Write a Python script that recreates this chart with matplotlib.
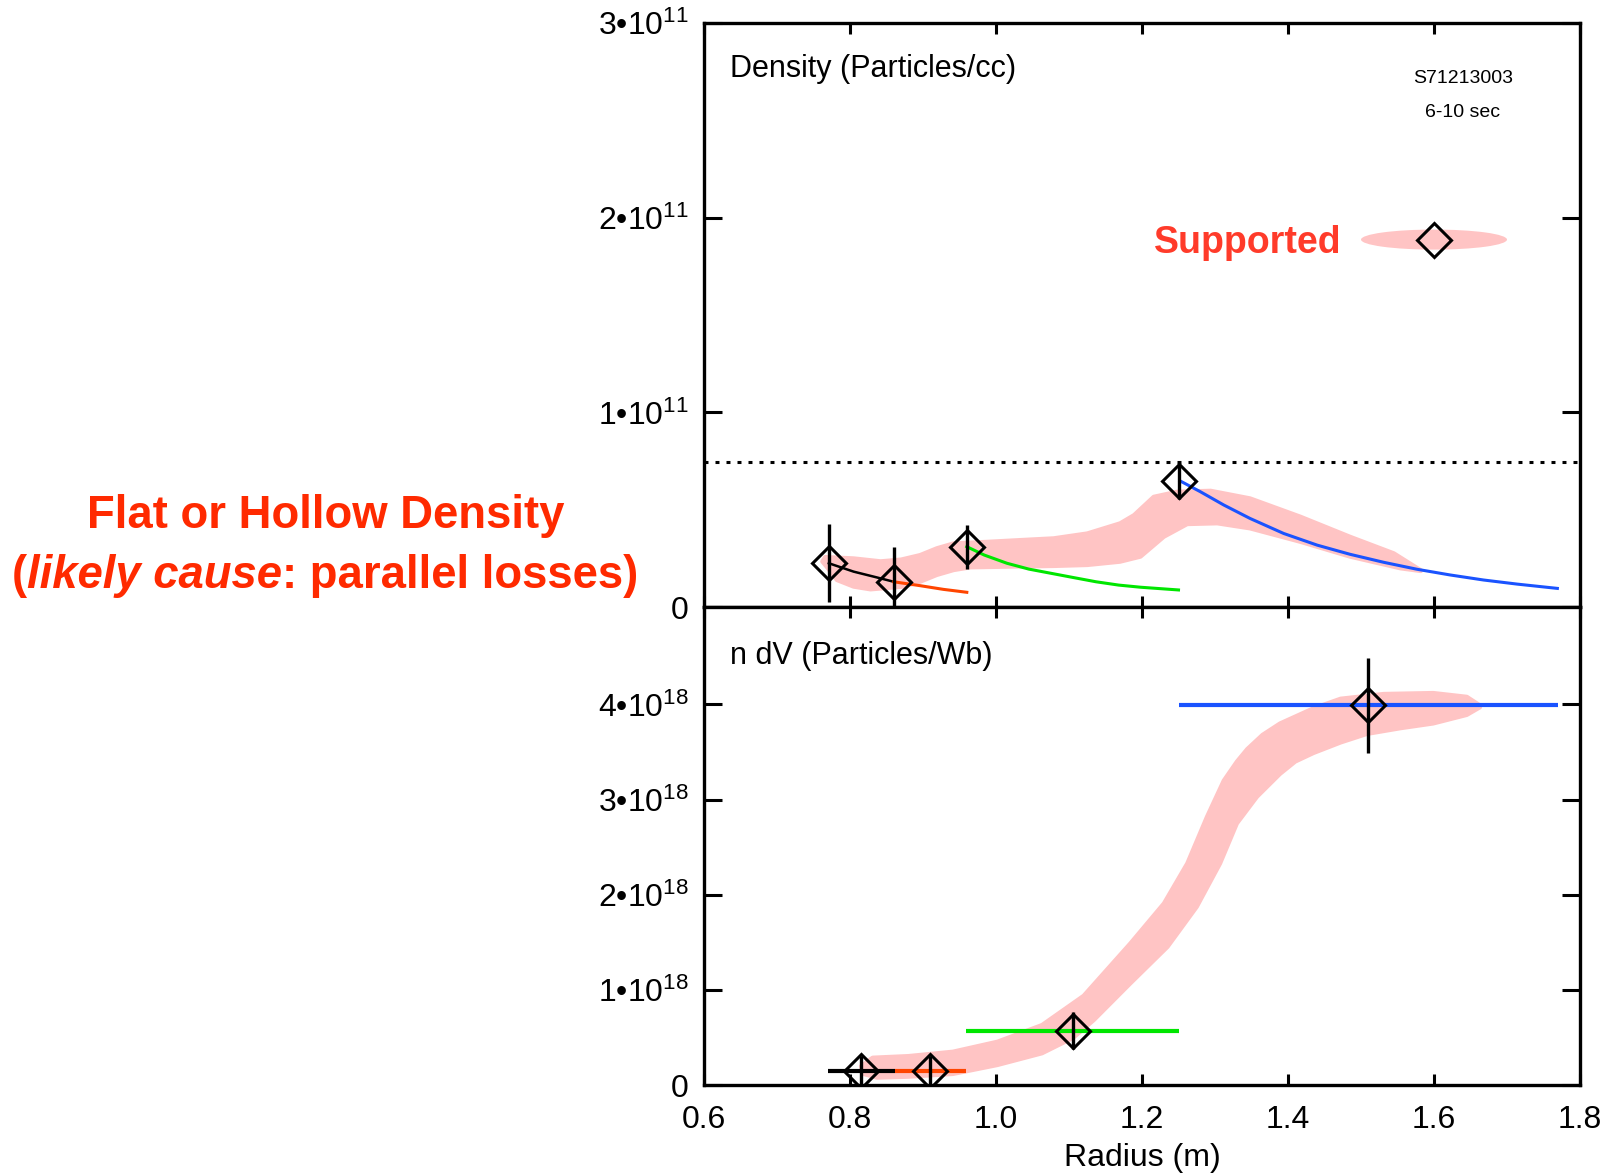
import matplotlib
matplotlib.use("Agg")
import matplotlib.pyplot as plt
from matplotlib.patches import Ellipse
from matplotlib.ticker import FixedLocator, FixedFormatter
from matplotlib import font_manager

# --- data -------------------------------------------------------------
# top panel: density (units of 1e11 /cc)
dens_r = [0.771, 0.860, 0.960, 1.250]
dens_n = [0.226, 0.128, 0.311, 0.649]
dens_err = [0.200, 0.180, 0.113, 0.094]

black_r = [0.771, 0.805, 0.835, 0.860]
black_n = [0.226, 0.183, 0.155, 0.131]
orange_r = [0.860, 0.896, 0.928, 0.960]
orange_n = [0.131, 0.111, 0.092, 0.077]
green_r = [0.960, 0.984, 1.015, 1.045, 1.076, 1.107, 1.137, 1.168, 1.198, 1.250]
green_n = [0.311, 0.268, 0.226, 0.196, 0.174, 0.152, 0.131, 0.114, 0.103, 0.089]
blue_r = [1.252, 1.280, 1.312, 1.348, 1.394, 1.440, 1.485, 1.531, 1.577, 1.622, 1.668, 1.714, 1.769]
blue_n = [0.649, 0.593, 0.525, 0.456, 0.379, 0.319, 0.272, 0.231, 0.195, 0.166, 0.140, 0.119, 0.097]

limit_n = 0.744  # dotted line

# "supported" band, top panel (upper edge left->right, lower edge right->left)
band1_up_r = [0.762, 0.766, 0.805, 0.842, 0.870, 0.896, 0.919, 0.942, 0.988, 1.033, 1.079,
              1.125, 1.170, 1.189, 1.216, 1.248, 1.294, 1.348, 1.417, 1.485, 1.545, 1.582]
band1_up_n = [0.235, 0.258, 0.251, 0.236, 0.245, 0.268, 0.303, 0.328, 0.336, 0.345, 0.354,
              0.379, 0.431, 0.473, 0.567, 0.593, 0.598, 0.559, 0.465, 0.362, 0.277, 0.190]
band1_lo_r = [1.582, 1.554, 1.485, 1.417, 1.348, 1.303, 1.262, 1.230, 1.198, 1.170, 1.125,
              1.079, 1.010, 0.965, 0.942, 0.919, 0.896, 0.873, 0.828, 0.805, 0.782, 0.768]
band1_lo_n = [0.186, 0.200, 0.260, 0.336, 0.405, 0.431, 0.427, 0.362, 0.260, 0.234, 0.217,
              0.212, 0.208, 0.205, 0.191, 0.166, 0.131, 0.106, 0.092, 0.106, 0.140, 0.208]

# bottom panel: n dV (units of 1e18 /Wb)
ndv_r = [0.8155, 0.910, 1.105, 1.510]
ndv = [0.153, 0.153, 0.573, 3.99]
ndv_err = [0.150, 0.150, 0.197, 0.495]
bin_lo = [0.770, 0.861, 0.959, 1.251]
bin_hi = [0.861, 0.959, 1.251, 1.770]

band2_up_r = [0.815, 0.831, 0.880, 0.941, 1.002, 1.063, 1.120, 1.184, 1.230, 1.262, 1.289,
              1.312, 1.330, 1.344, 1.365, 1.389, 1.435, 1.472, 1.531, 1.599, 1.645, 1.663]
band2_up_n = [0.20, 0.29, 0.307, 0.353, 0.458, 0.633, 0.94, 1.49, 1.91, 2.33, 2.82,
              3.20, 3.40, 3.53, 3.68, 3.80, 3.96, 4.06, 4.11, 4.12, 4.08, 3.99]
band2_lo_r = [1.663, 1.645, 1.599, 1.554, 1.508, 1.472, 1.435, 1.410, 1.389, 1.3575, 1.330, 1.307,
              1.275, 1.235, 1.184, 1.134, 1.106, 1.063, 1.002, 0.941, 0.880, 0.837, 0.818]
band2_lo_n = [3.97, 3.89, 3.80, 3.75, 3.69, 3.60, 3.49, 3.40, 3.27, 3.03, 2.75, 2.33,
              1.874, 1.454, 1.07, 0.685, 0.50, 0.336, 0.213, 0.119, 0.090, 0.080, 0.120]

xticks = [0.6, 0.8, 1.0, 1.2, 1.4, 1.6, 1.8]
xtick_labels = ["0.6", "0.8", "1.0", "1.2", "1.4", "1.6", "1.8"]
top_yticks = [0, 1, 2, 3]
top_ytick_labels = ["0", r"$\mathrm{1•10}^{11}$", r"$\mathrm{2•10}^{11}$", r"$\mathrm{3•10}^{11}$"]
bot_yticks = [0, 1, 2, 3, 4]
bot_ytick_labels = ["0", r"$\mathrm{1•10}^{18}$", r"$\mathrm{2•10}^{18}$",
                    r"$\mathrm{3•10}^{18}$", r"$\mathrm{4•10}^{18}$"]

# --- style --------------------------------------------------------------
plt.rcParams["font.family"] = ["Liberation Sans", "DejaVu Sans"]
plt.rcParams["mathtext.fontset"] = "custom"
plt.rcParams["mathtext.rm"] = "Liberation Sans"
plt.rcParams["mathtext.it"] = "Liberation Sans:italic"
plt.rcParams["mathtext.bf"] = "Liberation Sans:bold"

installed = {f.name for f in font_manager.fontManager.ttflist}
if "Liberation Sans Narrow" in installed:
    big_family, big_fs = "Liberation Sans Narrow", 40
else:
    big_family, big_fs = "Liberation Sans", 32.8

pink = "#ffc4c4"
c_orange = "#ff4500"
c_green = "#00e600"
c_blue = "#1a53ff"
red_txt = "#ff2a00"
bin_colors = ["black", c_orange, c_green, c_blue]

W, H = 1606, 1176
fig = plt.figure(figsize=(W / 100, H / 100), dpi=100)
ax1 = fig.add_axes([704 / W, 1 - 607.3 / H, 876 / W, 584.6 / H])
ax2 = fig.add_axes([704 / W, 1 - 1085.3 / H, 876 / W, 478 / H])

# --- top panel ----------------------------------------------------------
ax1.fill(band1_up_r + band1_lo_r, band1_up_n + band1_lo_n, fc=pink, ec=pink, lw=3,
         joinstyle="round", zorder=1)
ax1.plot(black_r, black_n, color="black", lw=1.8, zorder=2)
ax1.plot(orange_r, orange_n, color=c_orange, lw=2.2, zorder=2)
ax1.plot(green_r, green_n, color=c_green, lw=2.2, zorder=2)
ax1.plot(blue_r, blue_n, color=c_blue, lw=2.2, zorder=2)
ax1.axhline(limit_n, color="black", lw=2.2, linestyle=(0, (1.3, 2.3)), zorder=2)
ax1.errorbar(dens_r, dens_n, yerr=dens_err, fmt="D", ms=17.5, mfc="none", mec="black",
             mew=2.2, ecolor="black", elinewidth=2.4, capsize=0, zorder=3)

# legend-like marker
ax1.add_patch(Ellipse((1.6, 1.887), 0.2, 0.103, color=pink, lw=0, zorder=1))
ax1.plot([1.6], [1.887], "D", ms=17.5, mfc="none", mec="black", mew=2.2, zorder=3)
ax1.text(1.473, 1.87, "Supported", color="#ff3b2a", fontsize=27, fontweight="bold",
         ha="right", va="center")

ax1.text(0.0297, 0.9076, "Density (Particles/cc)", transform=ax1.transAxes,
         fontsize=22, va="baseline", ha="left")
ax1.text(0.8664, 0.8974, "S71213003", transform=ax1.transAxes, fontsize=14,
         ha="center", va="baseline")
ax1.text(0.8664, 0.8392, "6-10 sec", transform=ax1.transAxes, fontsize=14,
         ha="center", va="baseline")

ax1.set_xlim(0.6, 1.8)
ax1.set_ylim(0, 3)
ax1.yaxis.set_major_locator(FixedLocator(top_yticks))
ax1.yaxis.set_major_formatter(FixedFormatter(top_ytick_labels))
ax1.xaxis.set_major_locator(FixedLocator(xticks))
ax1.tick_params(axis="x", labelbottom=False)

# --- bottom panel -------------------------------------------------------
ax2.fill(band2_up_r + band2_lo_r, band2_up_n + band2_lo_n, fc=pink, ec=pink, lw=3,
         joinstyle="round", zorder=1)
ax2.hlines(ndv, bin_lo, bin_hi, colors=bin_colors, lw=3, zorder=2)
ax2.errorbar(ndv_r, ndv, yerr=ndv_err, fmt="D", ms=17.5, mfc="none", mec="black",
             mew=2.2, ecolor="black", elinewidth=2.4, capsize=0, zorder=3)
ax2.text(0.0297, 0.881, "n dV (Particles/Wb)", transform=ax2.transAxes,
         fontsize=22, va="baseline", ha="left")

ax2.set_xlim(0.6, 1.8)
ax2.set_ylim(0, 5.02)
ax2.yaxis.set_major_locator(FixedLocator(bot_yticks))
ax2.yaxis.set_major_formatter(FixedFormatter(bot_ytick_labels))
ax2.xaxis.set_major_locator(FixedLocator(xticks))
ax2.xaxis.set_major_formatter(FixedFormatter(xtick_labels))
ax2.set_xlabel("Radius (m)", fontsize=23, labelpad=6)

for ax in (ax1, ax2):
    for sp in ax.spines.values():
        sp.set_linewidth(2.4)
    ax.tick_params(direction="in", top=True, right=True, width=2.2, labelsize=23)
    ax.tick_params(axis="x", length=8, pad=14)
    ax.tick_params(axis="y", length=13, pad=11)

# --- big red annotation on the left --------------------------------------
big = dict(color=red_txt, fontsize=big_fs, fontweight="bold", family=big_family)
fig.text(326 / W, 1 - 528.3 / H, "Flat or Hollow Density", ha="center", va="baseline", **big)
t0 = fig.text(12 / W, 1 - 588.3 / H, "(", ha="left", va="baseline", **big)
t1 = ax1.annotate("likely cause", xy=(1, 0), xycoords=t0, fontstyle="italic",
                  ha="left", va="bottom", **big)
ax1.annotate(": parallel losses)", xy=(1, 0), xycoords=t1, ha="left", va="bottom", **big)

fig.savefig("out.png", dpi=100)
